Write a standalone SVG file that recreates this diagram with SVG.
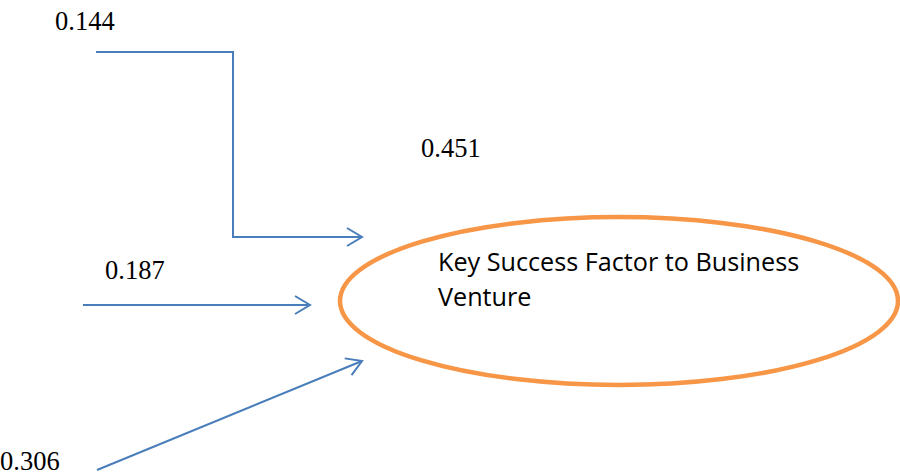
<svg xmlns="http://www.w3.org/2000/svg" width="900" height="475" viewBox="0 0 900 475">
<style>
.c{fill:none;stroke:#4A7EBB;stroke-width:2}
.n{font-family:"Liberation Serif",serif;font-size:26.5px;fill:#000}
.t{font-family:"Open Sans","Liberation Sans",sans-serif;font-size:25.2px;fill:#000}
</style>
<defs>
<marker id="a" viewBox="0 0 20 20" refX="18" refY="10" markerWidth="20" markerHeight="20" markerUnits="userSpaceOnUse" orient="auto">
<path d="M3,1 L18,10 L3,19" fill="none" stroke="#4A7EBB" stroke-width="2"/>
</marker>
</defs>
<rect width="900" height="475" fill="#fff"/>
<g id="connectors">
<path class="c" d="M96,52 H233 V237 H362" marker-end="url(#a)"/>
<path class="c" d="M83,305 H310" marker-end="url(#a)"/>
<path class="c" d="M97,470 L362,361" marker-end="url(#a)"/>
</g>
<g id="node-ksf">
<ellipse cx="619" cy="301" rx="279" ry="84" fill="none" stroke="#F79646" stroke-width="4.5"/>
<text class="t" x="438" y="271">Key Success Factor to Business</text>
<text class="t" x="438" y="306">Venture</text>
</g>
<g id="labels">
<text class="n" x="55" y="30">0.144</text>
<text class="n" x="421" y="157">0.451</text>
<text class="n" x="105" y="279">0.187</text>
<text class="n" x="0" y="470">0.306</text>
</g>
</svg>
